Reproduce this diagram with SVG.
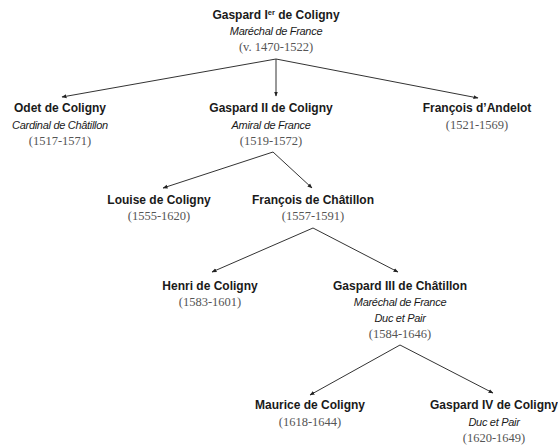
<svg xmlns="http://www.w3.org/2000/svg" width="558" height="447" viewBox="0 0 558 447">
<style>
.n{font-family:"Liberation Sans",Arial,sans-serif;font-weight:bold;font-size:12px;fill:#1a1a1a;text-anchor:middle}
.t{font-family:"Liberation Sans",Arial,sans-serif;font-style:italic;font-size:11px;fill:#1a1a1a;text-anchor:middle;letter-spacing:-0.3px}
.d{font-family:"Liberation Serif","Times New Roman",serif;font-size:12.5px;fill:#555;text-anchor:middle}
.c line{stroke:#333;stroke-width:1;fill:none;marker-end:url(#ah)}
</style>
<defs>
<marker id="ah" viewBox="0 0 10 10" refX="9" refY="5" markerWidth="5" markerHeight="5" orient="auto" markerUnits="userSpaceOnUse">
<path d="M0,1 L10,5 L0,9 z" fill="#222"/>
</marker>
</defs>
<rect width="558" height="447" fill="#fff"/>
<g class="c" id="connectors">
<line x1="276" y1="59" x2="62" y2="97"/>
<line x1="276" y1="59" x2="276" y2="96"/>
<line x1="276" y1="59" x2="478" y2="98"/>
<line x1="273" y1="152" x2="163" y2="188"/>
<line x1="273" y1="152" x2="312" y2="188"/>
<line x1="313" y1="228" x2="212" y2="272"/>
<line x1="313" y1="228" x2="398" y2="272"/>
<line x1="400" y1="345" x2="310" y2="395"/>
<line x1="400" y1="345" x2="493" y2="393"/>
</g>
<g id="gaspard1">
<text class="n" x="276" y="19">Gaspard I<tspan font-size="7.5" dy="-4">er</tspan><tspan dy="4"> de Coligny</tspan></text>
<text class="t" x="276" y="35">Maréchal de France</text>
<text class="d" x="276" y="51">(v. 1470-1522)</text>
</g>
<g id="odet">
<text class="n" x="60" y="112">Odet de Coligny</text>
<text class="t" x="60" y="129">Cardinal de Châtillon</text>
<text class="d" x="60" y="145">(1517-1571)</text>
</g>
<g id="gaspard2">
<text class="n" x="271" y="112">Gaspard II de Coligny</text>
<text class="t" x="271" y="129">Amiral de France</text>
<text class="d" x="271" y="145">(1519-1572)</text>
</g>
<g id="francois-andelot">
<text class="n" x="477" y="112">François d’Andelot</text>
<text class="d" x="477" y="129">(1521-1569)</text>
</g>
<g id="louise">
<text class="n" x="159" y="204">Louise de Coligny</text>
<text class="d" x="159" y="220">(1555-1620)</text>
</g>
<g id="francois-chatillon">
<text class="n" x="313" y="204">François de Châtillon</text>
<text class="d" x="313" y="220">(1557-1591)</text>
</g>
<g id="henri">
<text class="n" x="210" y="290">Henri de Coligny</text>
<text class="d" x="210" y="306">(1583-1601)</text>
</g>
<g id="gaspard3">
<text class="n" x="400" y="290">Gaspard III de Châtillon</text>
<text class="t" x="400" y="306">Maréchal de France</text>
<text class="t" x="400" y="322">Duc et Pair</text>
<text class="d" x="400" y="338">(1584-1646)</text>
</g>
<g id="maurice">
<text class="n" x="310" y="409">Maurice de Coligny</text>
<text class="d" x="310" y="426">(1618-1644)</text>
</g>
<g id="gaspard4">
<text class="n" x="494" y="409">Gaspard IV de Coligny</text>
<text class="t" x="494" y="426">Duc et Pair</text>
<text class="d" x="494" y="442">(1620-1649)</text>
</g>
</svg>
